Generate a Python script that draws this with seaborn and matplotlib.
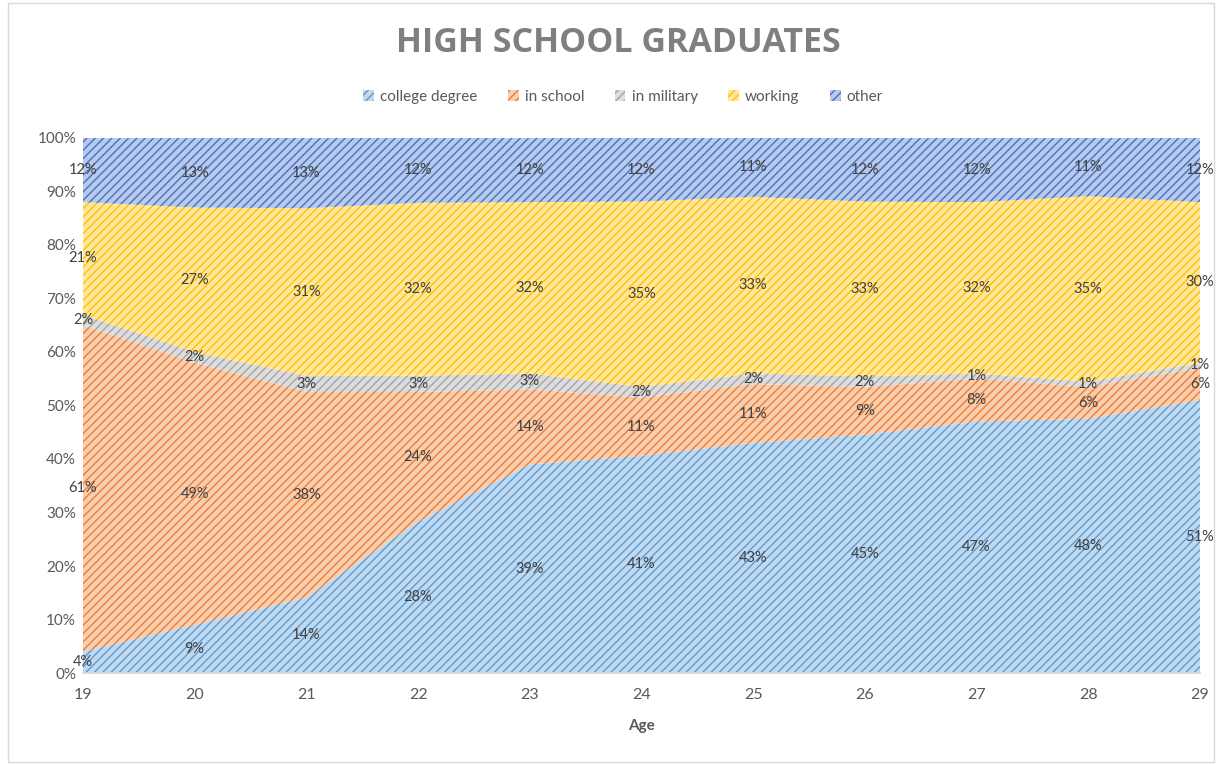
import numpy as np
import pandas as pd
import matplotlib
matplotlib.use("Agg")
import matplotlib.pyplot as plt
import seaborn as sns
from matplotlib.patches import Rectangle, Patch
from matplotlib.colors import to_rgb

ages = [19, 20, 21, 22, 23, 24, 25, 26, 27, 28, 29]
college_degree = [4, 9, 14, 28, 39, 41, 43, 45, 47, 48, 51]
in_school = [61, 49, 38, 24, 14, 11, 11, 9, 8, 6, 6]
in_military = [2, 2, 3, 3, 3, 2, 2, 2, 1, 1, 1]
working = [21, 27, 31, 32, 32, 35, 33, 33, 32, 35, 30]
other = [12, 13, 13, 12, 12, 12, 11, 12, 12, 11, 12]

series_names = ["college degree", "in school", "in military", "working", "other"]
series_values = [college_degree, in_school, in_military, working, other]
series_colors = ["#5B9BD5", "#ED7D31", "#A5A5A5", "#FFC000", "#4472C4"]
y_ticks = [0, 10, 20, 30, 40, 50, 60, 70, 80, 90, 100]

sns.set_theme(style="white")
plt.rcParams["font.family"] = ["Lato", "DejaVu Sans"]
plt.rcParams["hatch.linewidth"] = 1.0

df = pd.DataFrame(dict(zip(series_names, series_values)), index=ages)
share = df.div(df.sum(axis=1), axis=0) * 100


def lighten(c, amt):
    r, g, b = to_rgb(c)
    return (r + (1 - r) * amt, g + (1 - g) * amt, b + (1 - b) * amt)


fig = plt.figure(figsize=(12.17, 7.64), dpi=100)
ax = fig.add_axes([0.0682, 0.1191, 0.9178, 0.7003])

bottom = np.zeros(len(ages))
label_color = "#404040"
for name, color in zip(series_names, series_colors):
    top = bottom + share[name].values
    ax.fill_between(ages, bottom, top, facecolor=lighten(color, 0.62),
                    edgecolor=color, hatch="////", linewidth=0)
    mids = (bottom + top) / 2
    for x, m, v in zip(ages, mids, df[name].values):
        ax.text(x, m, f"{v}%", ha="center", va="center", fontsize=10.5,
                color=label_color)
    bottom = top

ax.set_xlim(ages[0], ages[-1])
ax.set_ylim(0, 100)
ax.set_xticks(ages)
ax.set_xticklabels([str(a) for a in ages])
ax.set_yticks(y_ticks)
ax.set_yticklabels([f"{t}%" for t in y_ticks])
ax.tick_params(axis="x", colors="#595959", labelsize=11.5, pad=11, length=0)
ax.tick_params(axis="y", colors="#595959", labelsize=11, pad=5, length=0)
for s in ["top", "right", "left"]:
    ax.spines[s].set_visible(False)
ax.spines["bottom"].set_color("#d9d9d9")
ax.set_xlabel("Age", fontsize=11, color="#595959", fontweight="bold", labelpad=12)

fig.text(0.508, 0.944, "HIGH SCHOOL GRADUATES", ha="center", va="center",
         fontsize=24.5, fontweight="bold", color="#7f7f7f", family="Open Sans")

handles = [Patch(facecolor=lighten(c, 0.62), edgecolor=c, hatch="////", linewidth=0)
           for c in series_colors]
fig.legend(handles, series_names, loc="center", bbox_to_anchor=(0.512, 0.873),
           ncol=5, frameon=False, fontsize=11, handlelength=0.7, handleheight=0.7,
           handletextpad=0.4, columnspacing=2.0, labelcolor="#595959")

fig.patches.append(Rectangle((8 / 1217, 2 / 764), 1206 / 1217, 759 / 764,
                             transform=fig.transFigure, fill=False,
                             edgecolor="#d9d9d9", linewidth=1))

fig.savefig("out.png", dpi=100)
